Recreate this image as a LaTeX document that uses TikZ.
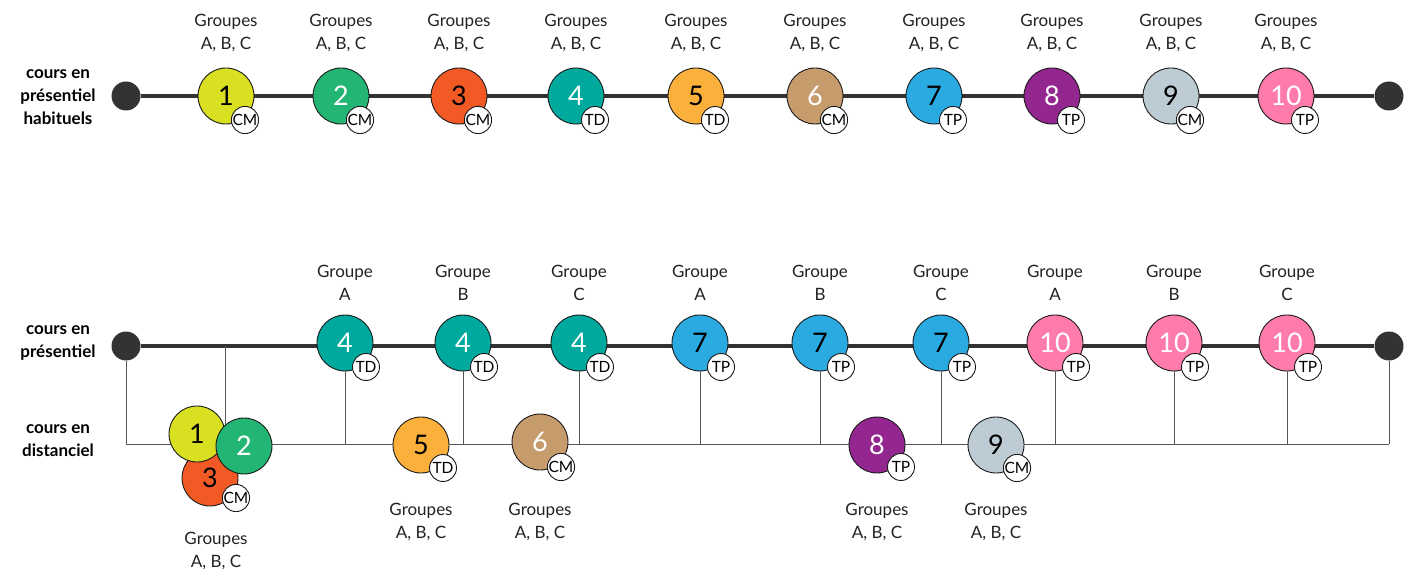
\documentclass[tikz,border=0pt]{standalone}
\usepackage{fontspec}
\setmainfont{Lato}
\definecolor{c1}{HTML}{D9E021}
\definecolor{c2}{HTML}{22B573}
\definecolor{c3}{HTML}{F15A24}
\definecolor{c4}{HTML}{00A99D}
\definecolor{c5}{HTML}{FBB03B}
\definecolor{c6}{HTML}{C69C6D}
\definecolor{c7}{HTML}{29ABE2}
\definecolor{c8}{HTML}{93278F}
\definecolor{c9}{HTML}{BDCCD4}
\definecolor{c10}{HTML}{FF7BAC}
\definecolor{dark}{HTML}{333333}
\definecolor{outl}{HTML}{1A1A1A}
\definecolor{thin}{HTML}{555555}
\definecolor{txt}{HTML}{222222}
\begin{document}
\begin{tikzpicture}[x=1pt,y=-1pt,
  num/.style={circle,draw=outl,line width=0.9pt,minimum size=56pt,inner sep=0pt,font=\fontsize{27}{27}\selectfont},
  badge/.style={circle,draw=outl,fill=white,line width=0.9pt,minimum size=27pt,inner sep=0pt,font=\fontsize{15.5}{15.5}\selectfont},
  lbl/.style={align=center,text=txt,font=\fontsize{17}{23}\selectfont},
  side/.style={align=center,text=black,font=\bfseries\fontsize{17}{23}\selectfont},
  dot/.style={circle,fill=dark,minimum size=29pt,inner sep=0pt},
  mainline/.style={draw=dark,line width=4pt},
  thinline/.style={draw=thin,line width=1pt}
]
\useasboundingbox (0,0) rectangle (1408,569);

% ---------- top row ----------
\node[side] (s1) at (58,97) {cours en\\présentiel\\habituels};
\node[dot] (tL) at (126,96) {};
\node[dot] (tR) at (1389,96) {};
\draw[mainline] (tL) -- (tR);
\foreach \i/\x/\fc/\tc/\b in {1/226/c1/black/CM,2/341/c2/white/CM,3/459/c3/black/CM,4/576/c4/white/TD,5/696/c5/black/TD,6/815/c6/white/CM,7/934/c7/black/TP,8/1052/c8/white/TP,9/1171/c9/black/CM,10/1286/c10/white/TP}{
  \node[num,fill=\fc,text=\tc] (t\i) at (\x,96) {\i};
  \node[badge] (tb\i) at ([shift={(19,24)}]t\i.center) {\b};
  \node[lbl] (tg\i) at (\x,33) {Groupes\\A, B, C};
}

% ---------- bottom rows ----------
\node[side] (s2) at (58,343) {cours en\\présentiel};
\node[side] (s3) at (58,441) {cours en\\distanciel};
\node[dot] (bL) at (126,346) {};
\node[dot] (bR) at (1389,346) {};
\coordinate (dL) at (126,444);
\coordinate (dR) at (1389,444);
\coordinate (pc) at (225,346);
\coordinate (dc) at (225,444);
\draw[mainline] (bL) -- (bR);
\draw[thinline] (dL) -- (dR);
\draw[thinline] (bL) -- (dL);
\draw[thinline] (bR) -- (dR);
\draw[thinline] (pc) -- (dc);

\foreach \k/\x/\n/\fc/\tc/\b/\g in {a/345/4/c4/white/TD/A,b/463/4/c4/white/TD/B,c/579/4/c4/white/TD/C,d/700/7/c7/black/TP/A,e/820/7/c7/black/TP/B,f/941/7/c7/black/TP/C,g/1055/10/c10/white/TP/A,h/1174/10/c10/white/TP/B,k/1287/10/c10/white/TP/C}{
  \coordinate (d\k) at (\x,444);
  \node[num,fill=\fc,text=\tc] (p\k) at (\x,343) {\n};
  \node[badge] (pb\k) at ([shift={(21,24)}]p\k.center) {\b};
  \node[lbl] (pg\k) at (\x,283) {Groupe\\\g};
  \draw[thinline] (p\k) -- (d\k);
}

% distanciel cluster
\node[num,fill=c3,text=black] (d3) at (210,478) {3};
\node[badge] (db3) at (236,498) {CM};
\node[num,fill=c1,text=black] (d1) at (197,434) {1};
\node[num,fill=c2,text=white] (d2) at (244,446) {2};
\node[lbl] (dg1) at (216,551) {Groupes\\A, B, C};

\foreach \i/\x/\y/\fc/\tc/\b/\bx/\by in {5/421/445/c5/black/TD/22/23,6/540/442/c6/white/CM/21/25,8/877/445/c8/white/TP/24/22,9/996/445/c9/black/CM/21/23}{
  \node[num,fill=\fc,text=\tc] (d\i) at (\x,\y) {\i};
  \node[badge] (db\i) at ([shift={(\bx,\by)}]d\i.center) {\b};
  \node[lbl] (dg\i) at (\x,522) {Groupes\\A, B, C};
}
\end{tikzpicture}
\end{document}
